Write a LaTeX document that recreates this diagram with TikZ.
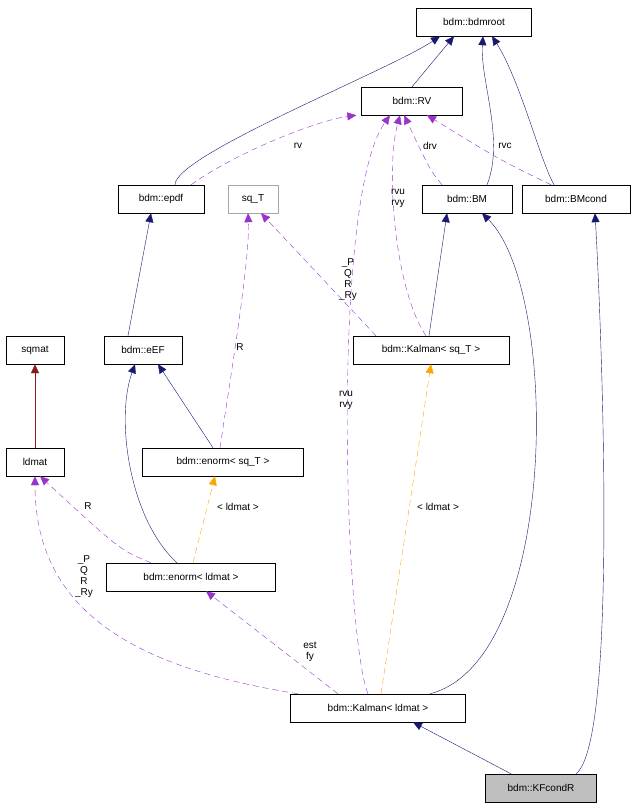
\documentclass[tikz,border=0pt]{standalone}
\usepackage{fontspec}
\setmainfont{Liberation Sans}
\usetikzlibrary{arrows.meta}
\begin{document}
\begin{tikzpicture}[x=1pt,y=-1pt,
 box/.style={draw=black,fill=white,minimum height=28pt,inner xsep=4pt,font=\fontsize{10}{11}\selectfont},
 inh/.style={color={rgb,255:red,25;green,25;blue,112},-{Triangle[length=9pt,width=8pt]}},
 red/.style={color={rgb,255:red,139;green,26;blue,26},-{Triangle[length=9pt,width=8pt]}},
 use/.style={color={rgb,255:red,154;green,50;blue,205},dashed,dash pattern=on 6pt off 4pt,-{Triangle[length=9pt,width=8pt]}},
 tmpl/.style={color={rgb,255:red,255;green,165;blue,0},dashed,dash pattern=on 6pt off 4pt,-{Triangle[length=9pt,width=8pt]}},
 lab/.style={font=\fontsize{10}{11}\selectfont,align=center,inner sep=1pt}]
\useasboundingbox (0,0) rectangle (637,808);
\node[box,minimum width=115pt] (root) at (474,22) {bdm::bdmroot};
\node[box,minimum width=101pt] (rv) at (412,101) {bdm::RV};
\node[box,minimum width=86pt] (epdf) at (161,199) {bdm::epdf};
\node[box,minimum width=50pt,draw=black!35] (sqt) at (253,199) {sq\_T};
\node[box,minimum width=90pt] (bm) at (467,199) {bdm::BM};
\node[box,minimum width=108pt] (bmc) at (576,199) {bdm::BMcond};
\node[box,minimum width=58pt] (sqmat) at (35,350) {sqmat};
\node[box,minimum width=78pt] (eef) at (143,350) {bdm::eEF};
\node[box,minimum width=156pt] (ksq) at (431,350) {bdm::Kalman\textless{} sq\_T \textgreater};
\node[box,minimum width=58pt] (ldmat) at (35,462) {ldmat};
\node[box,minimum width=161pt] (esq) at (223,462) {bdm::enorm\textless{} sq\_T \textgreater};
\node[box,minimum width=169pt] (eld) at (191,577) {bdm::enorm\textless{} ldmat \textgreater};
\node[box,minimum width=175pt] (kld) at (378,708) {bdm::Kalman\textless{} ldmat \textgreater};
\node[box,minimum width=111pt,fill=black!25] (kf) at (541,788) {bdm::KFcondR};

% inheritance
\draw[inh] ([xshift=14pt]epdf.north) .. controls +(0,-30) and (390,70) .. ([xshift=-34pt]root.south);
\draw[inh] (rv.north) -- ([xshift=-20pt]root.south);
\draw[inh] ([xshift=20pt]bm.north) .. controls (505,140) and (480,80) .. ([xshift=9pt]root.south);
\draw[inh] ([xshift=-22pt]bmc.north) .. controls (540,160) and (520,80) .. ([xshift=18pt]root.south);
\draw[inh] ([xshift=-15pt]eef.north) -- ([xshift=-10pt]epdf.south);
\draw[inh] ([xshift=-10pt]esq.north) -- ([xshift=15pt]eef.south);
\draw[inh] ([xshift=-14pt]eld.north) .. controls (130,520) and (115,420) .. ([xshift=-8pt]eef.south);
\draw[inh] ([xshift=-2pt]ksq.north) -- ([xshift=-20pt]bm.south);
\draw[inh] ([xshift=52pt]kld.north) .. controls (560,660) and (560,290) .. ([xshift=15pt]bm.south);
\draw[inh] ([xshift=-30pt]kf.north) -- ([xshift=35pt]kld.south);
\draw[inh] ([xshift=35pt]kf.north) .. controls (620,740) and (600,300) .. ([xshift=19pt]bmc.south);
\draw[red] (ldmat.north) -- (sqmat.south);

% usage
\draw[use] ([xshift=30pt]epdf.north) .. controls (240,150) and (320,120) .. ([xshift=-5pt]rv.south west);
\node[lab] at (298,146) {rv};
\draw[use] ([xshift=-25pt]bm.north) .. controls (430,170) .. ([xshift=-8pt]rv.south);
\node[lab] at (430,146) {drv};
\draw[use] ([xshift=-25pt]bmc.north) .. controls (500,160) .. ([xshift=15pt]rv.south);
\node[lab] at (505,146) {rvc};
\draw[use] ([xshift=-5pt]ksq.north) .. controls (395,290) and (385,170) .. ([xshift=-12pt]rv.south);
\node[lab] at (398,198) {rvu\\rvy};
\draw[use] ([xshift=-55pt]ksq.north) -- ([xshift=8pt]sqt.south);
\node[lab] at (348,280) {\_P\\Q\\R\\\_Ry};
\draw[use] ([xshift=-3pt]esq.north) .. controls (230,380) and (250,260) .. ([xshift=-5pt]sqt.south);
\node[lab] at (240,347) {R};
\draw[use] ([xshift=-10pt]kld.north) .. controls (345,640) and (330,200) .. ([xshift=-22pt]rv.south);
\node[lab] at (346,400) {rvu\\rvy};
\draw[use] ([xshift=-40pt]eld.north) .. controls (120,550) .. ([xshift=5pt]ldmat.south);
\node[lab] at (88,506) {R};
\draw[use] ([xshift=-80pt]kld.north) .. controls (150,670) and (35,620) .. (ldmat.south);
\node[lab] at (84,577) {\_P\\Q\\R\\\_Ry};
\draw[use] ([xshift=-40pt]kld.north) -- ([xshift=15pt]eld.south);
\node[lab] at (310,652) {est\\fy};

% template
\draw[tmpl] ([xshift=2pt]eld.north) -- ([xshift=-8pt]esq.south);
\node[lab] at (238,507) {\textless{} ldmat \textgreater};
\draw[tmpl] ([xshift=3pt]kld.north) -- (ksq.south);
\node[lab] at (438,507) {\textless{} ldmat \textgreater};
\end{tikzpicture}
\end{document}
